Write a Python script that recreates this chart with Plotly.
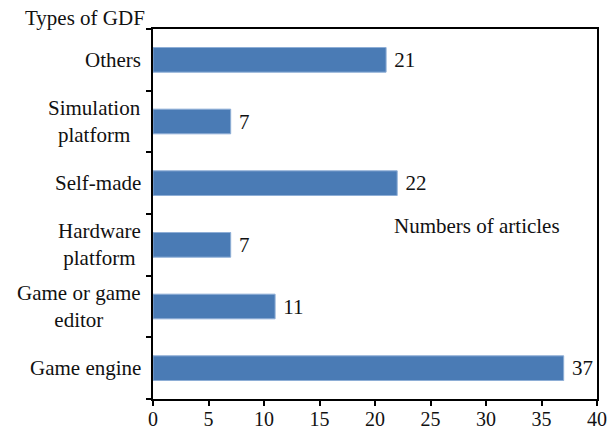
import plotly.graph_objects as go

categories = ["Game engine", "Game or game<br>editor", "Hardware<br>platform",
              "Self-made", "Simulation<br>platform", "Others"]
values = [37, 11, 7, 22, 7, 21]
x_ticks = [0, 5, 10, 15, 20, 25, 30, 35, 40]

FONT = "Liberation Serif"
FS = 21

fig = go.Figure(go.Bar(
    y=list(range(len(categories))), x=values, orientation="h",
    marker=dict(color="#4a7bb5", line=dict(color="#8eaed6", width=1)),
    texttemplate=" %{x}", textposition="outside",
    textfont=dict(family=FONT, size=FS, color="#111"),
    cliponaxis=False, width=0.4,
))

annotations = []
for i, c in enumerate(categories):
    annotations.append(dict(x=0, xref="paper", y=i, yref="y", text=c,
                            showarrow=False, xanchor="right", yanchor="middle",
                            align="center", xshift=-10,
                            font=dict(family=FONT, size=FS, color="#111")))
annotations.append(dict(x=0, xref="paper", y=1, yref="paper", text="Types of GDF",
                        showarrow=False, xanchor="right", yanchor="middle",
                        xshift=-6, yshift=11,
                        font=dict(family=FONT, size=FS, color="#111")))
annotations.append(dict(x=21.5, xref="x", y=0.468, yref="paper", text="Numbers of articles",
                        showarrow=False, xanchor="left", yanchor="middle",
                        font=dict(family=FONT, size=FS, color="#111")))

fig.update_layout(
    width=608, height=434,
    margin=dict(l=153, r=11, t=29, b=35),
    paper_bgcolor="white", plot_bgcolor="white",
    showlegend=False,
    font=dict(family=FONT, size=FS, color="#111"),
    xaxis=dict(range=[0, 40], tickvals=x_ticks, showgrid=False, zeroline=False,
               showline=True, linecolor="black", linewidth=1.5, mirror=True,
               ticks="outside", ticklen=5, tickcolor="black", tickwidth=1.5,
               automargin=False, ticklabelstandoff=-4,
               tickfont=dict(family=FONT, size=20, color="#111")),
    yaxis=dict(range=[-0.5, 5.5], tickvals=[-0.5, 0.5, 1.5, 2.5, 3.5, 4.5, 5.5],
               showticklabels=False, showgrid=False, zeroline=False,
               showline=True, linecolor="black", linewidth=1.5, mirror=True,
               ticks="outside", ticklen=5, tickcolor="black", tickwidth=1.5,
               automargin=False),
    annotations=annotations,
)

fig.write_html("out.html", config={"displayModeBar": False},
               post_script="document.body.style.margin='0';document.body.style.padding='0';")
